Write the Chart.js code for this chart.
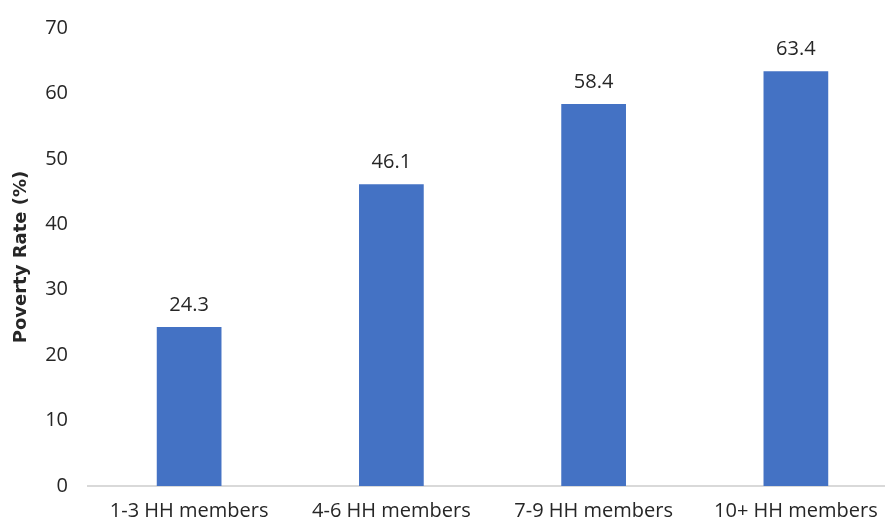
<!DOCTYPE html>
<html>
<head>
<meta charset="utf-8">
<script src="https://cdn.jsdelivr.net/npm/chart.js@4.4.1/dist/chart.umd.min.js"></script>
<style>
    html, body { margin: 0; padding: 0; background: #fff; overflow: hidden; }
    .wrap { width: 897px; height: 520px; position: relative; }
</style>
</head>
<body>
<div class="wrap"><canvas id="povertyChart"></canvas></div>
<script>
const categories = ["1-3 HH members", "4-6 HH members", "7-9 HH members", "10+ HH members"];
const povertyRates = [24.3, 46.1, 58.4, 63.4];
const yTicks = [0, 10, 20, 30, 40, 50, 60, 70];

const textColor = "#262626";
const fontFamily = "'Open Sans', sans-serif";

// writes each bar's value just above it
const valueLabels = {
    id: "valueLabels",
    afterDatasetsDraw(chart) {
        const ctx = chart.ctx;
        const meta = chart.getDatasetMeta(0);
        ctx.save();
        ctx.fillStyle = textColor;
        ctx.font = "20px " + fontFamily;
        ctx.textAlign = "center";
        ctx.textBaseline = "alphabetic";
        meta.data.forEach((bar, i) => {
            ctx.fillText(povertyRates[i].toFixed(1), bar.x, bar.y - 16);
        });
        ctx.restore();
    }
};

new Chart(document.getElementById("povertyChart"), {
    type: "bar",
    data: {
        labels: categories,
        datasets: [{
            data: povertyRates,
            backgroundColor: "#4472C4",
            borderWidth: 0,
            categoryPercentage: 1,
            barPercentage: 0.32
        }]
    },
    options: {
        responsive: true,
        maintainAspectRatio: false,
        animation: false,
        layout: { padding: { top: 28, right: 0, bottom: 0, left: 9 } },
        plugins: {
            legend: { display: false },
            tooltip: { enabled: false }
        },
        scales: {
            x: {
                afterFit(scale) {
                    scale.height = 34;
                },
                grid: { display: false, drawTicks: false },
                border: { color: "#d9d9d9", width: 2 },
                ticks: {
                    color: textColor,
                    padding: 15,
                    maxRotation: 0,
                    font: { family: fontFamily, size: 20, lineHeight: 1 }
                }
            },
            y: {
                min: 0,
                max: 70,
                afterBuildTicks(scale) {
                    scale.ticks = yTicks.map((v) => ({ value: v }));
                },
                afterFit(scale) {
                    scale.width = 79;
                    scale.paddingTop = 0;
                    scale.paddingBottom = 0;
                },
                grid: { display: false, drawTicks: false },
                border: { display: false },
                title: {
                    display: true,
                    text: "Poverty Rate (%)",
                    color: textColor,
                    padding: { top: 2, bottom: 12 },
                    font: { family: "'DejaVu Sans', sans-serif", size: 18, weight: "bold" }
                },
                ticks: {
                    color: textColor,
                    padding: 20,
                    font: { family: fontFamily, size: 20 }
                }
            }
        }
    },
    plugins: [valueLabels]
});
</script>
</body>
</html>
